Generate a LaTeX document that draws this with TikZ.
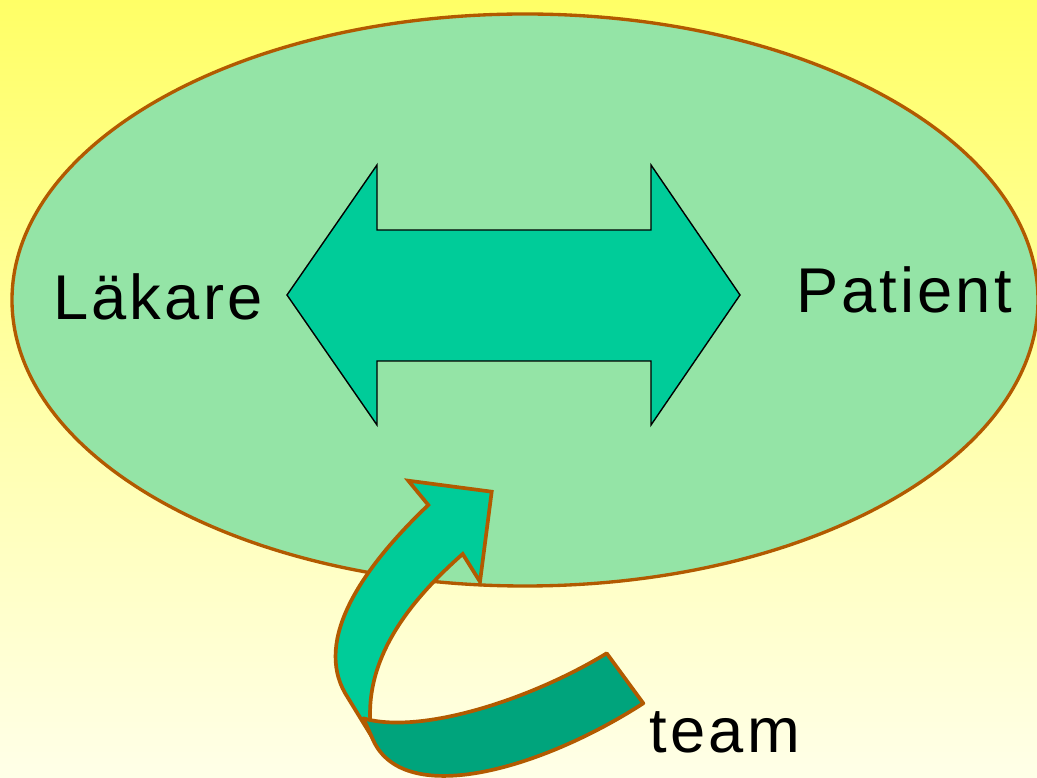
\documentclass[tikz,border=0pt]{standalone}
\usepackage{fontspec}
\setmainfont[LetterSpace=5]{Liberation Sans}
\usepackage{tikz}
\usetikzlibrary{calc, positioning, arrows.meta}
\usepackage{xcolor}
\definecolor{bgTop}{RGB}{255, 255, 102}
\definecolor{bgBot}{RGB}{255, 255, 232}
\definecolor{oval}{RGB}{148, 228, 166}
\definecolor{rim}{RGB}{178, 90, 0}
\definecolor{front}{RGB}{0, 204, 153}
\definecolor{back}{RGB}{0, 164, 124}

\begin{document}
\begin{tikzpicture}[x=0.2mm, y=-0.2mm, font=\fontsize{36}{40}\selectfont]
  \useasboundingbox (0,0) rectangle (1037,778);
  \fill[top color=bgTop, bottom color=bgBot] (0,0) rectangle (1037,778);

  % the oval
  \draw[rim, line width=1.9pt, fill=oval] (525,300) ellipse [x radius=513, y radius=286];

  % double arrow between the two
  \draw[black, line width=0.8pt, fill=front, line join=miter]
    (287,295) -- (377,165) -- (377,230) -- (651,230) -- (651,165) -- (740,295)
    -- (651,425) -- (651,361) -- (377,361) -- (377,425) -- cycle;

  \node[anchor=base] (lakare) at (158,320) {Läkare};
  \node[anchor=base] (patient) at (904,313) {Patient};
  \node[anchor=base] (team) at (725,753) {team};

  % curved arrow from team into the oval
  \draw[rim, line width=2.1pt, fill=front, line join=miter]
    (491.7,491.7) -- (480,581.7) -- (462.7,554)
    .. controls (405,605) and (360,665) .. (372,737)
    -- (345,693)
    .. controls (315,640) and (360,570) .. (428.3,505)
    -- (408.3,480.7) -- cycle;
  \draw[rim, line width=2.1pt, fill=back, line join=round]
    (363.3,718.3) .. controls (420,735) and (530,700) .. (606.7,653.3)
    -- (643.3,703.3)
    .. controls (540,770) and (400,810) .. (371.7,736.7) -- cycle;
\end{tikzpicture}
\end{document}
